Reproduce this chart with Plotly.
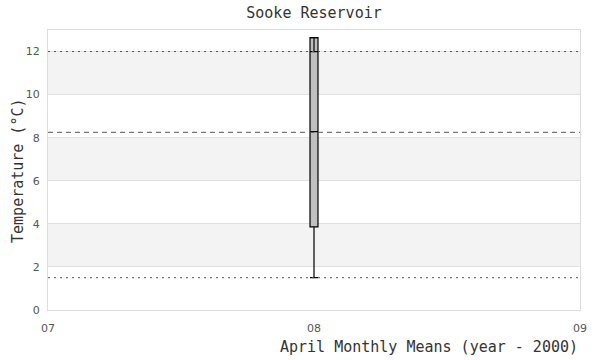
import plotly.graph_objects as go

# Data
category_x = [8]
q1 = [3.86]
median = [8.28]
q3 = [12.0]
upper_whisker = [12.65]
lower_whisker = [1.5]
mean_line = 8.25
upper_ref = 12.0
lower_ref = 1.5
x_ticks = [7, 8, 9]
x_tick_labels = ["07", "08", "09"]
y_ticks = [0, 2, 4, 6, 8, 10, 12]
bands = [(2, 4), (6, 8), (10, 12)]

mono = "DejaVu Sans Mono"
sans = "DejaVu Sans"

fig = go.Figure()

fig.add_trace(go.Box(
    x=category_x, q1=q1, median=median, q3=upper_whisker,
    lowerfence=lower_whisker, upperfence=upper_whisker,
    width=0.03, whiskerwidth=1,
    fillcolor="#c0c0c0", line=dict(color="black", width=1.2),
    boxpoints=False, showlegend=False, hoverinfo="skip",
))
fig.add_trace(go.Box(
    x=category_x, q1=q3, median=q3, q3=q3,
    lowerfence=q3, upperfence=upper_whisker,
    width=0.03, whiskerwidth=1,
    fillcolor="rgba(0,0,0,0)", line=dict(color="black", width=1.2),
    boxpoints=False, showlegend=False, hoverinfo="skip",
))

shapes = []
for lo, hi in bands:
    shapes.append(dict(type="rect", xref="paper", yref="y", x0=0, x1=1, y0=lo, y1=hi,
                       fillcolor="#f3f3f3", line=dict(width=0), layer="below"))
for v, d in [(upper_ref, "2px,4px"), (lower_ref, "2px,4px"), (mean_line, "5px,4px")]:
    shapes.append(dict(type="line", xref="paper", yref="y", x0=0, x1=1, y0=v, y1=v,
                       line=dict(color="#555555", width=1, dash=d), layer="above"))

fig.update_layout(
    width=600, height=360,
    margin=dict(l=48, r=20, t=30, b=50),
    paper_bgcolor="white", plot_bgcolor="white",
    boxmode="overlay",
    shapes=shapes,
    title=dict(text="Sooke Reservoir", x=0.5, xref="paper", xanchor="center",
               y=1, yref="container", yanchor="top", pad=dict(t=7),
               font=dict(family=mono, size=15, color="#333")),
    xaxis=dict(range=[7, 9], tickvals=x_ticks, ticktext=x_tick_labels,
               showgrid=False, zeroline=False, showline=True, linecolor="#dddddd",
               mirror=True, ticks="outside", ticklen=8, tickcolor="rgba(0,0,0,0)",
               tickfont=dict(family=sans, size=11, color="#555")),
    yaxis=dict(range=[0, 13], tickvals=y_ticks, showgrid=True, gridcolor="#e0e0e0",
               zeroline=False, showline=True, linecolor="#dddddd", mirror=True,
               ticks="outside", ticklen=5, tickcolor="rgba(0,0,0,0)",
               tickfont=dict(family=sans, size=11, color="#555")),
    annotations=[
        dict(text="April Monthly Means (year - 2000)", xref="paper", yref="paper",
             x=1, y=-0.132, xanchor="right", yanchor="middle", showarrow=False,
             font=dict(family=mono, size=15, color="#333")),
        dict(text="Temperature (°C)", xref="paper", yref="paper", textangle=-90,
             x=-0.0564, y=0.5, xanchor="center", yanchor="middle", showarrow=False,
             font=dict(family=mono, size=15, color="#333")),
    ],
)

fig.write_html("out.html")
